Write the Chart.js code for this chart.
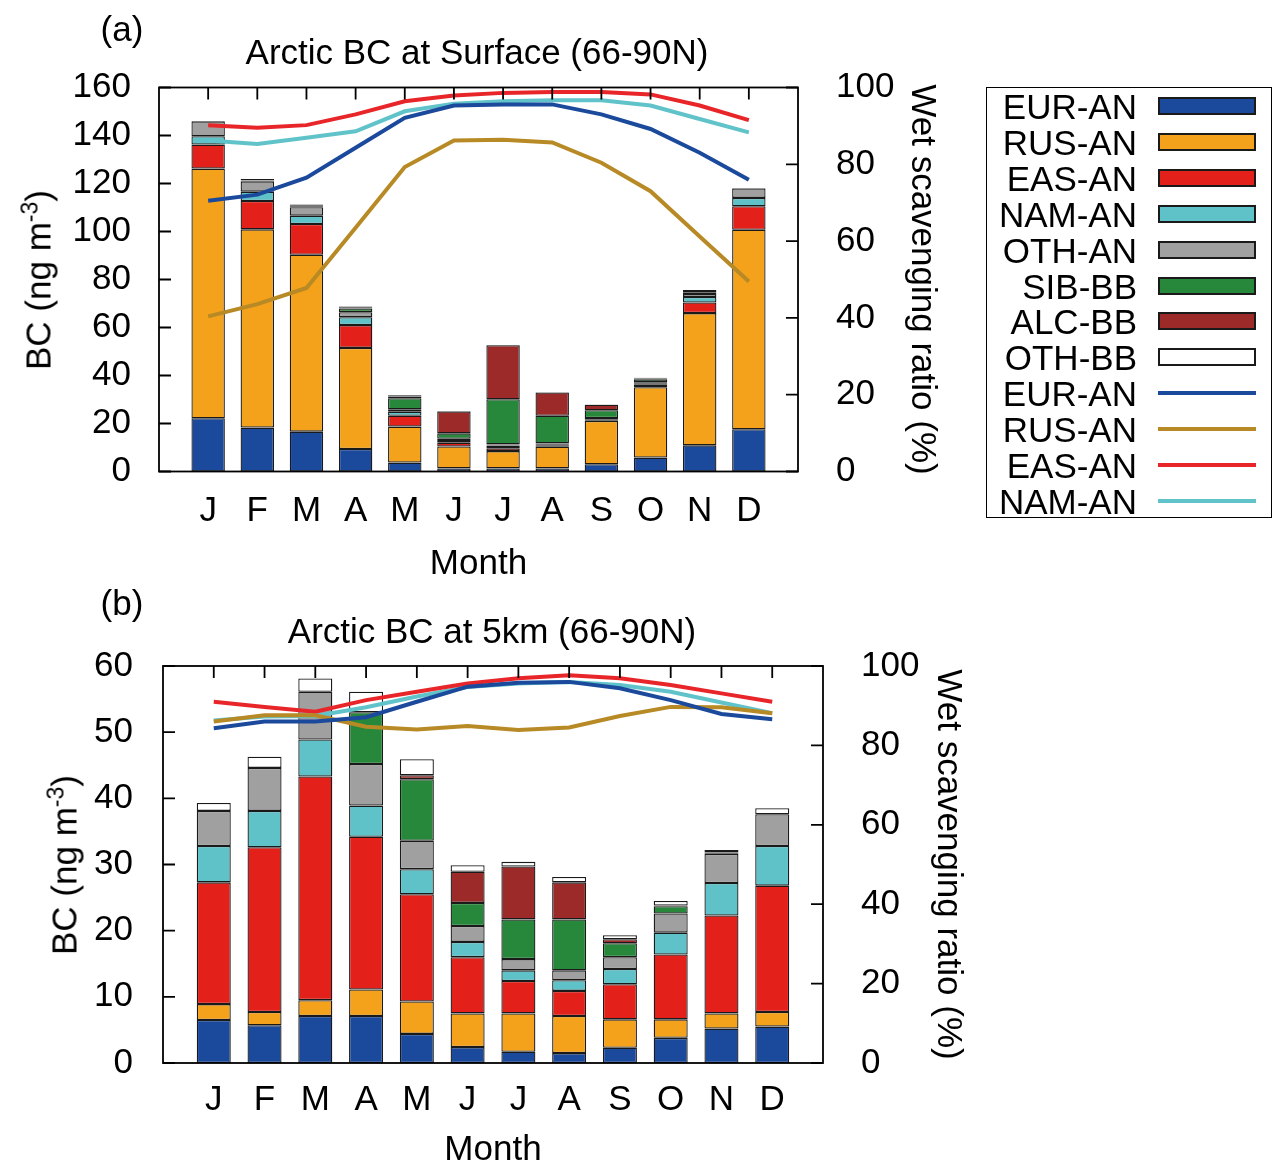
<!DOCTYPE html>
<html>
<head>
<meta charset="utf-8">
<script src="https://cdn.jsdelivr.net/npm/chart.js@4.4.0/dist/chart.umd.min.js"></script>
<style>
  body { margin: 0; width: 1272px; height: 1168px; background: #fff; position: relative; overflow: hidden;
         font-family: "Liberation Sans", Arial, sans-serif; color: #000; }
  canvas { position: absolute; left: 0; }
  .txt { position: absolute; font-size: 35px; line-height: 1; white-space: nowrap; transform: translate(-50%, -50%); }
  .rot { transform: translate(-50%, -50%) rotate(-90deg); }
  .rot sup { font-size: 23px; vertical-align: 13px; line-height: 0; }
  #legend { position: absolute; left: 986px; top: 87px; width: 286px; height: 431px; border: 1.5px solid #000; box-sizing: border-box; }
  .lg-label { position: absolute; left: 937px; width: 200px; text-align: right; font-size: 35px; line-height: 1; white-space: nowrap; transform: translateY(-50%); }
  .lg-box { position: absolute; left: 1158px; width: 98px; height: 18px; border: 2px solid #1a1a1a; box-sizing: border-box; transform: translateY(-50%); }
  .lg-line { position: absolute; left: 1158px; width: 98px; height: 4px; transform: translateY(-50%); }
</style>
</head>
<body>
<canvas id="chartA" width="985" height="590" style="top:0px"></canvas>
<canvas id="chartB" width="985" height="590" style="top:578px"></canvas>

<div class="txt" style="left:122px; top:28px">(a)</div>
<div class="txt" style="left:477px; top:51px">Arctic BC at Surface (66-90N)</div>
<div class="txt rot" style="left:38px; top:280px">BC (ng m<sup>-3</sup>)</div>

<div class="txt" style="left:122px; top:602px">(b)</div>
<div class="txt" style="left:492px; top:630px">Arctic BC at 5km (66-90N)</div>
<div class="txt rot" style="left:64px; top:865px">BC (ng m<sup>-3</sup>)</div>

<div id="legend"></div>

<script>
// 月（x軸）
const months = ['J', 'F', 'M', 'A', 'M', 'J', 'J', 'A', 'S', 'O', 'N', 'D'];
const sources = ['EUR-AN', 'RUS-AN', 'EAS-AN', 'NAM-AN', 'OTH-AN', 'SIB-BB', 'ALC-BB', 'OTH-BB'];
const ratioNames = ['EUR-AN', 'RUS-AN', 'EAS-AN', 'NAM-AN'];

// (a) 地表 BC (ng m-3)
const sfcEUR = [22.2, 18.3, 16.6, 9.4, 3.7, 1.3, 1.3, 1.3, 3.0, 5.8, 10.9, 17.6];
const sfcRUS = [104.0, 82.6, 73.7, 42.1, 15.0, 9.1, 7.2, 9.0, 18.1, 29.3, 55.1, 83.1];
const sfcEAS = [10.0, 11.8, 12.8, 9.5, 4.5, 1.6, 1.2, 0.4, 0.5, 1.0, 4.4, 9.8];
const sfcNAM = [3.5, 3.9, 3.5, 3.3, 1.7, 0.7, 1.1, 0.4, 0.3, 0.5, 2.3, 3.5];
const sfcOTH = [6.2, 4.3, 3.5, 2.1, 1.0, 0.9, 0.5, 0.6, 0.4, 0.6, 1.3, 3.9];
const sfcSIB = [0, 0.3, 0.4, 1.5, 4.6, 2.3, 18.8, 11.5, 3.2, 1.2, 0.4, 0];
const sfcALC = [0, 0.2, 0.2, 0.3, 0.7, 9.1, 22.5, 9.7, 2.3, 0.3, 0.3, 0];
const sfcOBB = [0, 0.5, 0.5, 0.5, 0.6, 0.2, 0.1, 0.1, 0.1, 0.4, 0.9, 0.2];

// (a) 湿性沈着比 (%)
const sfcWetEUR = [70.5, 72.1, 76.5, 84.3, 92.1, 95.3, 95.6, 95.6, 93.0, 89.2, 83.0, 76.0];
const sfcWetRUS = [40.4, 43.6, 47.8, 63.5, 79.3, 86.2, 86.4, 85.7, 80.4, 73.0, 61.2, 49.5];
const sfcWetEAS = [90.2, 89.5, 90.2, 93.0, 96.4, 97.9, 98.6, 98.8, 98.8, 98.2, 95.3, 91.5];
const sfcWetNAM = [86.2, 85.3, 86.9, 88.6, 93.8, 95.8, 96.4, 96.7, 96.7, 95.3, 91.8, 88.3];

// (b) 5km BC (ng m-3)
const km5EUR = [6.5, 5.7, 7.1, 7.1, 4.4, 2.4, 1.7, 1.5, 2.3, 3.8, 5.2, 5.5];
const km5RUS = [2.4, 2.0, 2.4, 4.0, 4.9, 5.1, 5.8, 5.6, 4.3, 2.8, 2.3, 2.2];
const km5EAS = [18.4, 24.9, 33.8, 23.1, 16.2, 8.5, 4.9, 3.8, 5.3, 9.8, 14.8, 19.1];
const km5NAM = [5.5, 5.5, 5.6, 4.7, 3.8, 2.3, 1.6, 1.6, 2.3, 3.3, 4.9, 6.0];
const km5OTH = [5.3, 6.5, 7.2, 6.3, 4.3, 2.4, 1.7, 1.5, 1.8, 2.9, 4.4, 4.8];
const km5SIB = [0, 0, 0, 7.8, 9.3, 3.5, 6.0, 7.7, 2.1, 1.1, 0.1, 0];
const km5ALC = [0, 0, 0, 0, 0.6, 4.7, 8.0, 5.6, 0.6, 0.1, 0.1, 0];
const km5OBB = [1.2, 1.7, 2.0, 3.1, 2.4, 1.0, 0.7, 0.8, 0.6, 0.7, 0.4, 0.9];

// (b) 湿性沈着比 (%)
const km5WetEUR = [84.3, 86.0, 86.0, 87.1, 91.0, 94.8, 95.8, 96.0, 94.4, 91.4, 87.9, 86.6];
const km5WetRUS = [86.0, 87.6, 87.6, 84.7, 84.0, 84.9, 83.9, 84.5, 87.4, 89.7, 89.6, 88.1];
const km5WetEAS = [91.0, 89.7, 88.5, 91.4, 93.5, 95.6, 96.9, 97.7, 96.9, 95.2, 93.1, 91.0];
const km5WetNAM = [86.3, 87.3, 87.4, 89.6, 92.3, 94.7, 95.6, 96.0, 95.2, 93.5, 90.8, 88.1];

// 色
const barColors = ['#1b4a9c', '#f4a21b', '#e4201b', '#60c2c9', '#a0a0a0', '#27883b', '#9c2a29', '#ffffff'];
const lineColors = ['#1b4a9c', '#b88a25', '#e8262a', '#61c3ca'];

const font = { family: 'Liberation Sans', size: 35, lineHeight: 1 };

// 両端に空カテゴリを足して 0..13 の軸にする
function pad(arr) {
  return [null, ...arr, null];
}

// 枠線と内向きの目盛り
const frameTicks = {
  id: 'frameTicks',
  afterDatasetsDraw(chart) {
    const { ctx, chartArea: a, scales } = chart;
    ctx.save();
    ctx.strokeStyle = '#000';
    ctx.lineWidth = 1.8;
    ctx.beginPath();
    scales.y.ticks.forEach(t => {
      const py = scales.y.getPixelForValue(t.value);
      ctx.moveTo(a.left, py);
      ctx.lineTo(a.left + 12, py);
    });
    scales.y2.ticks.forEach(t => {
      const py = scales.y2.getPixelForValue(t.value);
      ctx.moveTo(a.right, py);
      ctx.lineTo(a.right - 12, py);
    });
    months.forEach((m, i) => {
      const px = scales.x.getPixelForValue(i + 1);
      ctx.moveTo(px, a.top);
      ctx.lineTo(px, a.top + 12);
    });
    ctx.stroke();
    ctx.strokeRect(a.left, a.top, a.right - a.left, a.bottom - a.top);
    ctx.restore();
  }
};

function makePanel(id, bars, wets, opt) {
  const datasets = [];
  bars.forEach((arr, i) => {
    datasets.push({
      type: 'bar',
      label: sources[i],
      data: pad(arr),
      backgroundColor: barColors[i],
      borderColor: '#1a1a1a',
      borderWidth: 1.3,
      borderSkipped: false,
      barPercentage: opt.barPct,
      categoryPercentage: 1,
      yAxisID: 'y',
      order: 1
    });
  });
  wets.forEach((arr, i) => {
    datasets.push({
      type: 'line',
      label: ratioNames[i],
      data: pad(arr),
      borderColor: lineColors[i],
      borderWidth: 4,
      pointRadius: 0,
      tension: 0,
      fill: false,
      yAxisID: 'y2',
      order: 0
    });
  });

  return new Chart(document.getElementById(id), {
    type: 'bar',
    data: { labels: ['', ...months, ''], datasets: datasets },
    options: {
      responsive: false,
      animation: false,
      layout: { padding: { top: opt.top, left: 0, right: 0, bottom: 0 } },
      plugins: { legend: { display: false }, tooltip: { enabled: false } },
      scales: {
        x: {
          stacked: true,
          offset: false,
          grid: { display: false },
          border: { display: false },
          ticks: { color: '#000', font: font, padding: opt.xPad, autoSkip: false, maxRotation: 0 },
          title: { display: true, text: 'Month', color: '#000', font: font, padding: { top: 0, bottom: opt.monthPad } },
          afterFit(s) { s.height = opt.xHeight; }
        },
        y: {
          stacked: true,
          min: 0,
          max: opt.yMax,
          grid: { display: false },
          border: { display: false },
          ticks: { stepSize: opt.yStep, color: '#000', font: font, padding: opt.yPad },
          afterFit(s) { s.width = opt.left; }
        },
        y2: {
          position: 'right',
          min: 0,
          max: 100,
          grid: { display: false },
          border: { display: false },
          ticks: { stepSize: 20, color: '#000', font: font, padding: 30 },
          title: { display: true, text: 'Wet scavenging ratio (%)', color: '#000', font: font, padding: { top: opt.y2TitlePad, bottom: 0 } },
          afterFit(s) { s.width = opt.rightWidth; }
        }
      }
    },
    plugins: [frameTicks]
  });
}

makePanel('chartA',
  [sfcEUR, sfcRUS, sfcEAS, sfcNAM, sfcOTH, sfcSIB, sfcALC, sfcOBB],
  [sfcWetEUR, sfcWetRUS, sfcWetEAS, sfcWetNAM],
  { top: 87.5, left: 159, rightWidth: 187, xHeight: 118.5, xPad: 14, monthPad: 8.5,
    yMax: 160, yStep: 20, yPad: 20, y2TitlePad: 45.5, barPct: 0.68 });

makePanel('chartB',
  [km5EUR, km5RUS, km5EAS, km5NAM, km5OTH, km5SIB, km5ALC, km5OBB],
  [km5WetEUR, km5WetRUS, km5WetEAS, km5WetNAM],
  { top: 88, left: 163, rightWidth: 162, xHeight: 105, xPad: 11.5, monthPad: 0,
    yMax: 60, yStep: 10, yPad: 22, y2TitlePad: 19.5, barPct: 0.67 });

// 凡例（ラベル左・見本右）
const legendEl = document.body;
sources.forEach((name, i) => {
  const cy = 106 + i * 35.9;
  const lab = document.createElement('div');
  lab.className = 'lg-label';
  lab.style.top = cy + 'px';
  lab.textContent = name;
  legendEl.appendChild(lab);
  const box = document.createElement('div');
  box.className = 'lg-box';
  box.style.top = cy + 'px';
  box.style.background = barColors[i];
  legendEl.appendChild(box);
});
ratioNames.forEach((name, i) => {
  const cy = 106 + (i + 8) * 35.9;
  const lab = document.createElement('div');
  lab.className = 'lg-label';
  lab.style.top = cy + 'px';
  lab.textContent = name;
  legendEl.appendChild(lab);
  const ln = document.createElement('div');
  ln.className = 'lg-line';
  ln.style.top = cy + 'px';
  ln.style.background = lineColors[i];
  legendEl.appendChild(ln);
});
</script>
</body>
</html>
